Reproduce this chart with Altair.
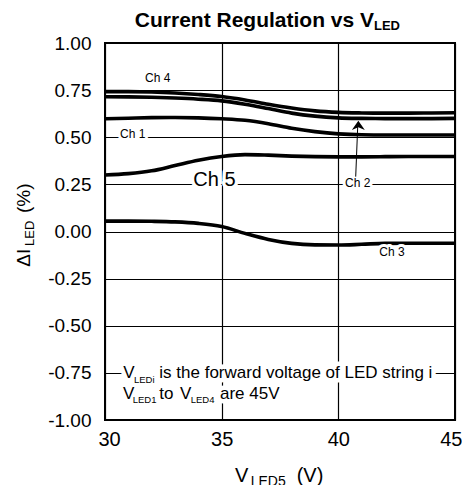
import altair as alt
import pandas as pd

# ---- data ----
volts = [30, 31, 32, 33, 34, 35, 36, 37, 38, 39, 40, 41, 42, 43, 44, 45]
ch4 = [0.742, 0.742, 0.740, 0.735, 0.727, 0.716, 0.698, 0.675, 0.655, 0.640, 0.632, 0.629, 0.628, 0.628, 0.629, 0.630]
ch2 = [0.715, 0.714, 0.712, 0.708, 0.702, 0.693, 0.675, 0.652, 0.628, 0.612, 0.603, 0.600, 0.599, 0.599, 0.599, 0.600]
ch1 = [0.598, 0.601, 0.604, 0.605, 0.603, 0.598, 0.590, 0.572, 0.548, 0.530, 0.518, 0.513, 0.512, 0.512, 0.512, 0.512]
ch5 = [0.300, 0.307, 0.322, 0.350, 0.378, 0.398, 0.408, 0.405, 0.400, 0.397, 0.396, 0.396, 0.397, 0.398, 0.398, 0.398]
ch3 = [0.055, 0.055, 0.054, 0.051, 0.043, 0.026, -0.010, -0.042, -0.063, -0.071, -0.072, -0.068, -0.063, -0.062, -0.062, -0.062]
series_names = ["Ch 4", "Ch 2", "Ch 1", "Ch 5", "Ch 3"]
series_vals = [ch4, ch2, ch1, ch5, ch3]

x_ticks = [30, 35, 40, 45]
y_ticks = [-1.0, -0.75, -0.5, -0.25, 0.0, 0.25, 0.5, 0.75, 1.0]

# arrow from the "Ch 2" label to its curve
arrow_v = [40.745]
arrow_d = [0.291]
arrow_v2 = [40.83]
arrow_d2 = [0.556]
head_v = [40.857]
head_d = [0.563]

rows = []
for name, vals in zip(series_names, series_vals):
    for v, d in zip(volts, vals):
        rows.append({"v": v, "d": d, "ch": name})
df = pd.DataFrame(rows)

FONT = "Liberation Sans"
W, H = 350, 377

x_scale = alt.Scale(domain=[30, 45], nice=False, zero=False)
y_scale = alt.Scale(domain=[-1, 1], nice=False, zero=False)

x_axis = alt.Axis(values=x_ticks, format="d", labelFontSize=20, labelFont=FONT,
                  labelColor="black", ticks=False, domain=False, grid=True,
                  gridColor="black", gridWidth=1.2, gridOpacity=1,
                  labelPadding=9, labelFlush=True, labelFlushOffset=7,
                  labelOverlap=False, labelBound=False)
y_axis = alt.Axis(values=y_ticks,
                  labelExpr="replace(format(datum.value, '.2f'), '\u2212', '-')",
                  labelFontSize=19, labelFont=FONT, labelColor="black",
                  ticks=False, domain=False, grid=True, gridColor="black",
                  gridWidth=1.2, gridOpacity=1, labelPadding=14,
                  labelFlush=False, labelOverlap=False, labelBound=False)

lines = alt.Chart(df).mark_line(color="black", strokeWidth=3.6, interpolate="monotone").encode(
    x=alt.X("v:Q", scale=x_scale, axis=x_axis, title=None),
    y=alt.Y("d:Q", scale=y_scale, axis=y_axis, title=None),
    detail="ch:N",
)

arrow_df = pd.DataFrame({"v": arrow_v, "d": arrow_d, "v2": arrow_v2, "d2": arrow_d2})
arrow = alt.Chart(arrow_df).mark_rule(color="black", strokeWidth=1).encode(
    x=alt.X("v:Q", title=None), y=alt.Y("d:Q", title=None), x2="v2:Q", y2="d2:Q")

head_df = pd.DataFrame({"v": head_v, "d": head_d})
head = alt.Chart(head_df).mark_point(
    shape="M0,-0.72L1,0.72L0,0.3L-1,0.72Z", filled=True, color="black",
    opacity=1, size=169).encode(x=alt.X("v:Q", title=None), y=alt.Y("d:Q", title=None))

# ---- text pieces: (text, x px, y px baseline, size, bold, angle, halo width, align), relative to plot origin ----
texts = [
    # title
    ("Current Regulation vs V", 269, -16.3, 21, True, 0, 0, "right"),
    ("LED", 269, -13.5, 13, True, 0, 0, "left"),
    # y title
    ("\u0394I", -75, 223.7, 19, False, 270, 0, "left"),
    ("LED", -71.5, 203, 13, False, 270, 0, "left"),
    ("(%)", -75, 170, 19, False, 270, 0, "left"),
    # x title
    ("V", 130, 438.6, 20, False, 0, 0, "left"),
    ("LED5", 145.7, 443, 14, False, 0, 0, "left"),
    ("(V)", 191.7, 438.6, 20, False, 0, 0, "left"),
    # channel labels
    ("Ch 4", 40, 38.7, 12, False, 0, 6, "left"),
    ("Ch 1", 15, 94.7, 12, False, 0, 6, "left"),
    ("Ch 5", 88.3, 142.7, 20, False, 0, 7, "left"),
    ("Ch 2", 240, 144.3, 12, False, 0, 6, "left"),
    ("Ch 3", 274.3, 213, 12, False, 0, 6, "left"),
    # note
    ("V", 18.3, 335, 17, False, 0, 9, "left"),
    ("LEDi", 29, 340, 9.5, False, 0, 9, "left"),
    ("is the forward voltage of LED string i", 54.3, 335, 17, False, 0, 9, "left"),
    ("V", 18, 356, 17, False, 0, 9, "left"),
    ("LED1", 27.7, 360, 9.5, False, 0, 9, "left"),
    ("to", 54.3, 356, 17, False, 0, 9, "left"),
    ("V", 75, 356, 17, False, 0, 9, "left"),
    ("LED4", 85.7, 360, 9.5, False, 0, 9, "left"),
    ("are 45V", 115, 356, 17, False, 0, 9, "left"),
]

one = alt.Data(values=[{}])
halo_layers = []
text_layers = []
for (t, px, py, fs, bold, ang, halo, al) in texts:
    kw = dict(text=t, fontSize=fs, font=FONT, align=al, baseline="alphabetic",
              fontWeight="bold" if bold else "normal")
    if ang:
        kw["angle"] = ang
    if halo:
        halo_layers.append(alt.Chart(one).mark_text(stroke="white", strokeWidth=halo,
                                                     strokeJoin="round",
                                                     fill="white", **kw).encode(
            x=alt.value(px), y=alt.value(py)))
    text_layers.append(alt.Chart(one).mark_text(color="black", **kw).encode(
        x=alt.value(px), y=alt.value(py)))

chart = alt.layer(lines, *halo_layers, arrow, head, *text_layers).properties(
    width=W, height=H,
    padding={"left": 97, "top": 35, "right": 7, "bottom": 65},
    autosize=alt.AutoSizeParams(type="none"),
    background="white",
).configure_view(stroke="black", strokeWidth=2)

chart.save("out.html", embed_options={"renderer": "svg", "actions": False})
